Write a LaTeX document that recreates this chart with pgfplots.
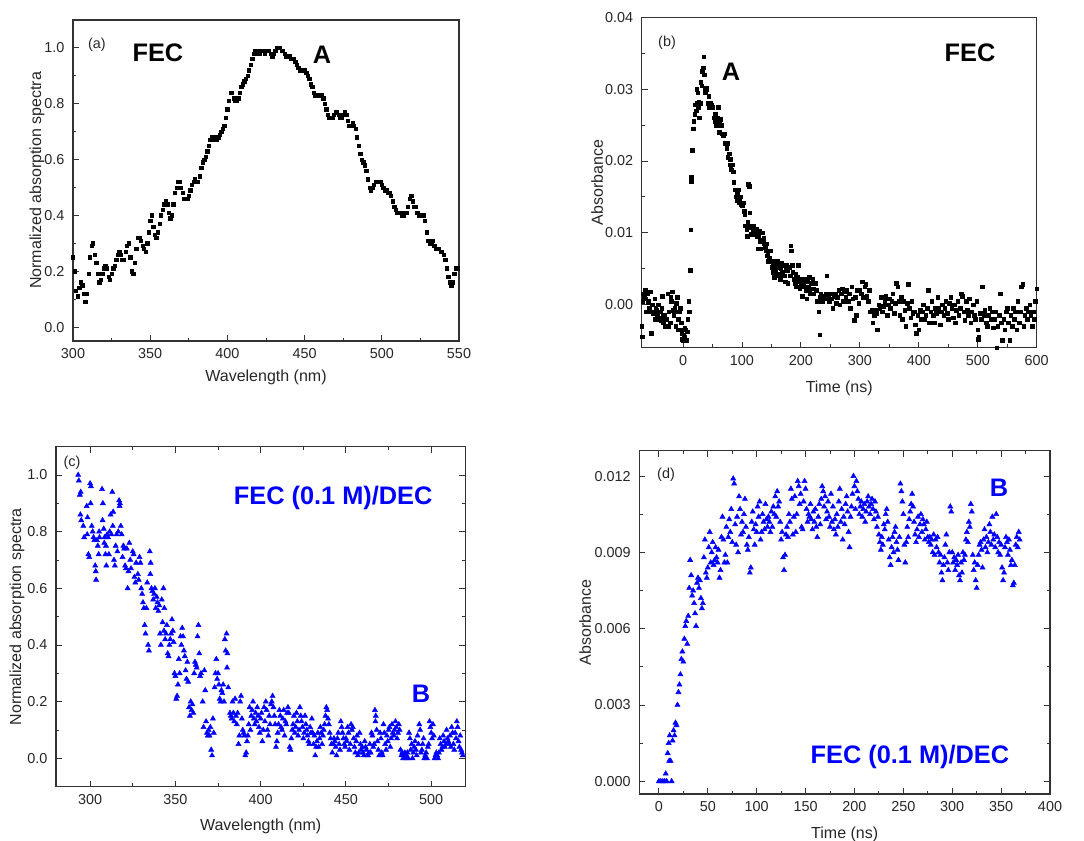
\documentclass[border=0pt]{standalone}
\usepackage{pgfplots}
\pgfplotsset{compat=1.18}
\usepackage{fontspec}
\setmainfont{Liberation Sans}
\pgfplotsset{
  myaxis/.style={
    scale only axis, anchor=south west,
    axis line style={black!80, line width=0.8pt},
    every tick/.style={black!80, line width=0.7pt},
    major tick length=4.5pt, minor tick length=2.5pt,
    tick label style={font=\fontsize{10.8}{12}\selectfont, text=black!85},
    xticklabel style={yshift=-2pt},
    yticklabel style={xshift=-3pt},
    label style={font=\fontsize{12}{14}\selectfont, text=black!85},
    /pgf/number format/assume math mode=true,
    scaled ticks=false,
  },
}
\tikzset{
  bigtxt/.style={font=\fontsize{19}{22}\selectfont\bfseries},
  smalltxt/.style={font=\fontsize{10.8}{12}\selectfont, text=black!85},
}
\begin{document}
\begin{tikzpicture}
\path[use as bounding box] (0,0) rectangle (813pt,630pt);
% ---------------- (a)
\begin{axis}[myaxis, at={(54.75pt,374.25pt)}, width=289.5pt, height=240.75pt,
  xmin=300, xmax=550, ymin=-0.05, ymax=1.1,
  xtick={300,350,...,550}, ytick={0,0.2,...,1.0},
  minor x tick num=1, minor y tick num=1, tick pos=left,
  yticklabel style={/pgf/number format/.cd, fixed, fixed zerofill, precision=1},
  xlabel={Wavelength (nm)}, ylabel={Normalized absorption spectra},
  xlabel style={at={(axis description cs:0.5,-0.112)}, anchor=center},
  ylabel style={at={(axis description cs:-0.093,0.5)}, anchor=center},
]
\addplot[only marks, mark=square*, mark size=1.25pt, black] table[row sep=\\] {
300 0.25\\ 301 0.20\\ 302 0.13\\ 303 0.11\\ 304 0.14\\ 305 0.16\\ 306 0.15\\ 307 0.12\\ 308 0.09\\ 309 0.12\\
310 0.19\\ 311 0.25\\ 312 0.29\\ 313 0.30\\ 314 0.26\\ 315 0.23\\ 316 0.19\\ 317 0.16\\ 318 0.17\\ 319 0.19\\
320 0.21\\ 321 0.22\\ 322 0.21\\ 323 0.18\\ 324 0.17\\ 325 0.19\\ 326 0.21\\ 327 0.22\\ 328 0.24\\ 329 0.26\\
330 0.27\\ 331 0.26\\ 332 0.24\\ 333 0.24\\ 334 0.27\\ 335 0.29\\ 336 0.30\\ 337 0.25\\ 338 0.20\\ 339 0.19\\
340 0.23\\ 341 0.28\\ 342 0.32\\ 343 0.32\\ 344 0.31\\ 345 0.29\\ 346 0.28\\ 347 0.27\\ 348 0.30\\ 349 0.34\\
350 0.38\\ 351 0.40\\ 352 0.36\\ 353 0.33\\ 354 0.32\\ 355 0.34\\ 356 0.37\\ 357 0.40\\ 358 0.42\\ 359 0.44\\
360 0.45\\ 361 0.44\\ 362 0.41\\ 363 0.39\\ 364 0.40\\ 365 0.44\\ 366 0.48\\ 367 0.50\\ 368 0.52\\ 369 0.52\\
370 0.50\\ 371 0.48\\ 372 0.46\\ 373 0.46\\ 374 0.46\\ 375 0.47\\ 376 0.49\\ 377 0.51\\ 378 0.52\\ 379 0.53\\
380 0.52\\ 381 0.52\\ 382 0.54\\ 383 0.57\\ 384 0.59\\ 385 0.60\\ 386 0.61\\ 387 0.63\\ 388 0.65\\ 389 0.67\\
390 0.68\\ 391 0.68\\ 392 0.67\\ 393 0.67\\ 394 0.68\\ 395 0.69\\ 396 0.70\\ 397 0.71\\ 398 0.72\\ 399 0.75\\
400 0.78\\ 401 0.81\\ 402 0.84\\ 403 0.84\\ 404 0.82\\ 405 0.81\\ 406 0.81\\ 407 0.82\\ 408 0.84\\ 409 0.86\\
410 0.87\\ 411 0.88\\ 412 0.89\\ 413 0.90\\ 414 0.92\\ 415 0.94\\ 416 0.96\\ 417 0.98\\ 418 0.99\\ 419 0.99\\
420 0.98\\ 421 0.98\\ 422 0.99\\ 423 0.99\\ 424 0.98\\ 425 0.99\\ 426 0.99\\ 427 0.99\\ 428 0.98\\ 429 0.97\\
430 0.98\\ 431 0.99\\ 432 1.00\\ 433 1.00\\ 434 1.00\\ 435 0.99\\ 436 0.99\\ 437 0.98\\ 438 0.97\\ 439 0.97\\
440 0.97\\ 441 0.96\\ 442 0.96\\ 443 0.96\\ 444 0.95\\ 445 0.94\\ 446 0.93\\ 447 0.92\\ 448 0.92\\ 449 0.92\\
450 0.92\\ 451 0.91\\ 452 0.90\\ 453 0.89\\ 454 0.87\\ 455 0.86\\ 456 0.84\\ 457 0.83\\ 458 0.83\\ 459 0.83\\
460 0.83\\ 461 0.83\\ 462 0.82\\ 463 0.80\\ 464 0.78\\ 465 0.76\\ 466 0.75\\ 467 0.75\\ 468 0.75\\ 469 0.76\\
470 0.77\\ 471 0.77\\ 472 0.76\\ 473 0.75\\ 474 0.75\\ 475 0.76\\ 476 0.77\\ 477 0.76\\ 478 0.74\\ 479 0.72\\
480 0.72\\ 481 0.73\\ 482 0.72\\ 483 0.71\\ 484 0.68\\ 485 0.65\\ 486 0.62\\ 487 0.60\\ 488 0.59\\ 489 0.58\\
490 0.56\\ 491 0.53\\ 492 0.50\\ 493 0.49\\ 494 0.50\\ 495 0.51\\ 496 0.52\\ 497 0.52\\ 498 0.52\\ 499 0.52\\
500 0.51\\ 501 0.50\\ 502 0.49\\ 503 0.49\\ 504 0.48\\ 505 0.48\\ 506 0.47\\ 507 0.45\\ 508 0.43\\ 509 0.42\\
510 0.41\\ 511 0.41\\ 512 0.41\\ 513 0.40\\ 514 0.40\\ 515 0.41\\ 516 0.41\\ 517 0.43\\ 518 0.46\\ 519 0.47\\
520 0.45\\ 521 0.43\\ 522 0.43\\ 523 0.41\\ 524 0.40\\ 525 0.40\\ 526 0.40\\ 527 0.40\\ 528 0.38\\ 529 0.34\\
530 0.31\\ 531 0.30\\ 532 0.30\\ 533 0.31\\ 534 0.29\\ 535 0.28\\ 536 0.28\\ 537 0.28\\ 538 0.27\\ 539 0.27\\
540 0.26\\ 541 0.24\\ 542 0.21\\ 543 0.18\\ 544 0.16\\ 545 0.15\\ 546 0.16\\ 547 0.19\\ 548 0.21\\ 549 0.21\\
};
\node[smalltxt] at (rel axis cs:0.062,0.922) {(a)};
\node[bigtxt] at (rel axis cs:0.220,0.897) {FEC};
\node[bigtxt] at (rel axis cs:0.645,0.891) {A};
\end{axis}
% ---------------- (b)
\begin{axis}[myaxis, at={(481.3pt,369.2pt)}, width=296.25pt, height=247.8pt,
  xmin=-70, xmax=600, ymin=-0.006, ymax=0.04,
  xtick={0,100,...,600}, ytick={0,0.01,...,0.04},
  minor x tick num=1, minor y tick num=1, tick pos=left,
  yticklabel style={/pgf/number format/.cd, fixed, fixed zerofill, precision=2},
  xlabel={Time (ns)}, ylabel={Absorbance},
  xlabel style={at={(axis description cs:0.5,-0.122)}, anchor=center},
  ylabel style={at={(axis description cs:-0.113,0.5)}, anchor=center},
]
\addplot[only marks, mark=square*, mark size=1.35pt, black] table[row sep=\\] {
-70 -0.0030\\ -69 -0.0045\\ -68 0.0005\\ -67 0.0015\\ -66 0.0010\\ -64 0.0020\\ -63 0.0008\\ -62 -0.0010\\ -60 0.0015\\ -59 0.0003\\
-58 0.0005\\ -57 -0.0005\\ -56 0.0018\\ -55 -0.0010\\ -54 -0.0040\\ -52 0.0000\\ -51 -0.0012\\ -50 -0.0010\\ -48 0.0008\\ -47 -0.0020\\
-46 -0.0005\\ -45 -0.0008\\ -44 -0.0015\\ -42 0.0000\\ -41 -0.0018\\ -40 -0.0020\\ -38 -0.0010\\ -37 -0.0022\\ -36 -0.0005\\ -35 0.0012\\
-34 -0.0025\\ -33 -0.0015\\ -32 -0.0015\\ -30 -0.0030\\ -29 -0.0020\\ -28 -0.0020\\ -26 0.0015\\ -25 -0.0030\\ -24 -0.0010\\ -22 -0.0025\\
-21 0.0010\\ -20 0.0005\\ -18 0.0018\\ -17 -0.0008\\ -16 -0.0015\\ -15 -0.0010\\ -14 -0.0005\\ -12 -0.0030\\ -11 0.0002\\ -10 0.0010\\
-9 -0.0035\\ -8 -0.0020\\ -6 -0.0010\\ -5 -0.0005\\ -4 -0.0035\\ -3 -0.0025\\ -2 -0.0040\\ -1 -0.0048\\ 0 -0.0050\\ 1 -0.0042\\
2 -0.0045\\ 3 -0.0032\\ 4 -0.0035\\ 6 -0.0050\\ 7 -0.0038\\ 8 -0.0020\\ 10 0.0005\\ 11 -0.0010\\
12 0.0048\\ 13 0.0104\\ 14 0.0172\\ 14.5 0.0178\\ 16 0.0215\\ 17 0.0245\\ 18 0.0255\\ 20 0.0265\\ 21 0.0278\\ 22 0.0270\\
23 0.0300\\ 24 0.0280\\ 25 0.0295\\ 26 0.0275\\ 27 0.0282\\ 28 0.0260\\ 29 0.0280\\ 30 0.0310\\ 32 0.0305\\ 33 0.0325\\
34 0.0330\\ 35 0.0345\\ 36 0.0320\\ 37 0.0300\\ 38 0.0295\\ 39 0.0302\\ 40 0.0300\\ 42 0.0280\\ 44 0.0290\\ 45 0.0275\\
46 0.0280\\ 48 0.0278\\ 50 0.0275\\ 52 0.0260\\ 54 0.0255\\ 55 0.0265\\ 56 0.0250\\ 58 0.0260\\ 60 0.0275\\ 61 0.0255\\
62 0.0240\\ 64 0.0258\\ 65 0.0250\\ 66 0.0238\\ 68 0.0235\\ 70 0.0238\\ 72 0.0225\\ 74 0.0218\\ 75 0.0225\\ 76 0.0205\\
78 0.0210\\ 79 0.0195\\ 80 0.0202\\ 81 0.0190\\ 82 0.0188\\ 84 0.0195\\ 85 0.0185\\ 86 0.0170\\ 88 0.0160\\ 90 0.0150\\
91 0.0145\\ 92 0.0155\\ 94 0.0160\\ 95 0.0142\\ 96 0.0145\\ 98 0.0150\\ 99 0.0140\\ 100 0.0138\\ 102 0.0142\\ 104 0.0130\\
105 0.0125\\ 106 0.0110\\ 108 0.0105\\ 109 0.0095\\ 110 0.0115\\ 111 0.0168\\ 112 0.0165\\ 113 0.0128\\ 114 0.0108\\ 115 0.0110\\
116 0.0098\\ 118 0.0105\\ 119 0.0100\\ 120 0.0110\\ 121 0.0102\\ 122 0.0098\\ 124 0.0105\\ 125 0.0095\\ 126 0.0100\\ 127 0.0078\\
128 0.0095\\ 130 0.0102\\ 131 0.0088\\ 132 0.0078\\ 134 0.0100\\ 136 0.0090\\ 137 0.0092\\ 138 0.0085\\ 140 0.0080\\ 141 0.0075\\
142 0.0085\\ 143 0.0068\\ 144 0.0072\\ 145 0.0060\\ 146 0.0065\\ 148 0.0075\\ 150 0.0060\\ 151 0.0052\\ 152 0.0045\\ 153 0.0058\\
154 0.0060\\ 155 0.0038\\ 156 0.0045\\ 158 0.0052\\ 160 0.0040\\ 161 0.0060\\ 162 0.0055\\ 164 0.0042\\ 165 0.0035\\ 166 0.0050\\
167 0.0058\\ 168 0.0045\\ 170 0.0055\\ 172 0.0040\\ 173 0.0032\\ 174 0.0050\\ 176 0.0055\\ 177 0.0048\\ 178 0.0030\\ 180 0.0052\\
182 0.0040\\ 183 0.0082\\ 184 0.0075\\ 185 0.0055\\ 186 0.0045\\ 188 0.0035\\ 190 0.0030\\ 191 0.0042\\ 192 0.0025\\ 194 0.0038\\
195 0.0032\\ 196 0.0055\\ 198 0.0022\\ 200 0.0035\\ 201 0.0028\\ 202 0.0012\\ 204 0.0030\\ 205 0.0025\\ 206 0.0035\\ 208 0.0020\\
210 0.0008\\ 211 0.0032\\ 212 0.0025\\ 214 0.0038\\ 215 0.0020\\ 216 0.0015\\ 218 0.0030\\ 220 0.0035\\ 221 0.0022\\ 222 0.0015\\
224 0.0030\\ 226 0.0020\\ 228 0.0005\\ 230 -0.0010\\ 232 -0.0042\\ 233 0.0010\\ 234 0.0015\\ 236 0.0005\\ 238 0.0012\\ 240 0.0008\\
242 0.0015\\ 244 0.0040\\ 246 0.0010\\ 248 0.0005\\ 250 0.0015\\ 252 0.0008\\ 254 -0.0005\\ 256 0.0012\\ 258 0.0015\\ 260 0.0002\\
262 0.0010\\ 264 0.0020\\ 266 0.0000\\ 268 0.0015\\ 270 0.0022\\ 272 0.0005\\ 274 0.0018\\ 276 0.0010\\ 278 0.0020\\ 280 0.0005\\
282 0.0015\\ 284 -0.0005\\ 286 0.0025\\ 288 0.0008\\ 290 -0.0022\\ 292 0.0010\\ 294 -0.0015\\ 296 0.0020\\ 298 0.0002\\ 300 0.0020\\
302 0.0015\\ 304 0.0032\\ 306 0.0010\\ 308 0.0025\\ 310 0.0028\\ 312 0.0012\\ 314 0.0005\\ 316 0.0020\\ 318 -0.0010\\ 320 -0.0008\\
322 -0.0025\\ 324 -0.0015\\ 326 -0.0008\\ 328 -0.0012\\ 330 -0.0035\\ 332 0.0000\\ 334 -0.0005\\ 336 0.0010\\ 338 -0.0010\\ 340 -0.0002\\
342 0.0005\\ 344 0.0012\\ 346 -0.0015\\ 348 0.0000\\ 350 0.0008\\ 352 -0.0005\\ 354 0.0005\\ 356 0.0015\\ 358 -0.0012\\ 360 0.0002\\
362 0.0030\\ 364 0.0025\\ 366 0.0005\\ 368 -0.0015\\ 370 0.0010\\ 372 -0.0020\\ 374 0.0005\\ 376 -0.0008\\ 378 -0.0030\\ 380 0.0002\\
382 0.0028\\ 384 -0.0005\\ 386 -0.0018\\ 388 0.0005\\ 390 -0.0012\\ 392 -0.0010\\ 394 -0.0028\\ 396 -0.0040\\ 398 -0.0015\\ 400 -0.0035\\
402 -0.0008\\ 404 -0.0020\\ 406 -0.0010\\ 408 0.0000\\ 410 -0.0020\\ 412 -0.0015\\ 414 -0.0005\\ 416 0.0020\\ 418 -0.0025\\ 420 -0.0010\\
422 0.0005\\ 424 -0.0015\\ 426 -0.0025\\ 428 -0.0005\\ 430 -0.0012\\ 432 0.0010\\ 434 -0.0005\\ 436 -0.0028\\ 438 -0.0010\\ 440 0.0000\\
442 -0.0015\\ 444 -0.0005\\ 446 0.0005\\ 448 -0.0012\\ 450 -0.0020\\ 452 0.0002\\ 454 0.0010\\ 456 -0.0005\\ 458 -0.0018\\ 460 0.0000\\
462 -0.0025\\ 464 -0.0008\\ 466 0.0005\\ 468 -0.0015\\ 470 -0.0005\\ 472 0.0015\\ 474 0.0012\\ 476 -0.0010\\ 478 -0.0022\\ 480 0.0005\\
482 -0.0008\\ 484 -0.0015\\ 486 0.0008\\ 488 -0.0025\\ 490 -0.0010\\ 492 0.0000\\ 494 -0.0015\\ 496 -0.0020\\ 498 0.0005\\ 500 -0.0035\\
501 -0.0048\\ 502 -0.0045\\ 504 -0.0012\\ 506 -0.0020\\ 508 0.0025\\ 510 -0.0015\\ 512 -0.0008\\ 514 -0.0025\\ 516 -0.0030\\ 518 -0.0015\\
520 -0.0005\\ 522 -0.0020\\ 524 -0.0010\\ 526 -0.0032\\ 528 -0.0020\\ 530 -0.0010\\ 532 -0.0060\\ 534 -0.0030\\ 536 -0.0015\\ 538 0.0015\\
540 -0.0025\\ 542 -0.0050\\ 544 -0.0020\\ 546 -0.0035\\ 548 -0.0010\\ 550 -0.0005\\ 552 -0.0025\\ 554 -0.0050\\ 556 -0.0015\\ 558 -0.0030\\
560 -0.0005\\ 562 -0.0020\\ 564 -0.0010\\ 566 -0.0035\\ 568 0.0005\\ 570 -0.0025\\ 572 -0.0010\\ 574 0.0025\\ 576 0.0028\\ 578 -0.0030\\
580 -0.0015\\ 582 -0.0005\\ 584 -0.0020\\ 586 -0.0010\\ 588 0.0000\\ 590 -0.0015\\ 592 -0.0030\\ 594 -0.0010\\ 596 -0.0020\\ 598 0.0005\\
600 0.0022\\
};
\node[smalltxt] at (rel axis cs:0.064,0.922) {(b)};
\node[bigtxt] at (rel axis cs:0.831,0.892) {FEC};
\node[bigtxt] at (rel axis cs:0.226,0.834) {A};
\end{axis}
% ---------------- (c)
\begin{axis}[myaxis, at={(42pt,40pt)}, width=307pt, height=255pt,
  xmin=280, xmax=520, ymin=-0.1, ymax=1.1,
  xtick={300,350,...,500}, ytick={0,0.2,...,1.0},
  minor x tick num=1, minor y tick num=1,
  yticklabel style={/pgf/number format/.cd, fixed, fixed zerofill, precision=1},
  xlabel={Wavelength (nm)}, ylabel={Normalized absorption spectra},
  xlabel style={at={(axis description cs:0.5,-0.116)}, anchor=center},
  ylabel style={at={(axis description cs:-0.095,0.5)}, anchor=center},
]
\addplot[only marks, mark=triangle*, mark size=2.2pt, blue, mark options={draw=blue, fill=blue}] table[row sep=\\] {
293 1.00\\ 293.4 0.98\\ 294 0.93\\ 294.5 0.94\\ 294.3 0.86\\ 294.8 0.84\\ 296 0.82\\ 296.5 0.78\\ 298 0.89\\ 298.5 0.85\\ 298.3 0.79\\
299 0.72\\ 299.5 0.71\\ 300 0.97\\ 300.5 0.96\\ 300.3 0.90\\ 301 0.82\\ 301.5 0.80\\ 302 0.78\\ 302.5 0.77\\ 303 0.68\\ 303.5 0.63\\ 303.3 0.66\\
304 0.77\\ 304.5 0.75\\ 305 0.72\\ 305.5 0.78\\ 305.3 0.80\\ 307 0.95\\ 307.5 0.90\\ 307.3 0.84\\ 308 0.81\\ 308.5 0.78\\ 308.3 0.76\\
309 0.72\\ 309.5 0.68\\ 309.3 0.75\\ 310 0.79\\ 310.5 0.78\\ 311 0.72\\ 311.5 0.80\\ 312 0.86\\ 312.5 0.79\\ 313 0.94\\ 313.5 0.87\\ 313.3 0.82\\
314 0.70\\ 314.5 0.68\\ 315 0.75\\ 315.5 0.79\\ 316 0.73\\ 316.5 0.80\\ 317 0.91\\ 317.5 0.90\\ 317.3 0.89\\ 318 0.82\\ 318.5 0.79\\
319 0.71\\ 319.5 0.75\\ 320 0.74\\ 320.5 0.68\\ 321 0.67\\ 321.5 0.74\\ 322 0.60\\ 322.5 0.66\\ 323 0.76\\ 323.5 0.70\\ 324 0.67\\
325 0.73\\ 325.5 0.72\\ 326 0.64\\ 326.5 0.62\\ 327 0.69\\ 328 0.65\\ 328.5 0.63\\ 329 0.71\\ 329.5 0.69\\ 330 0.60\\ 330.5 0.58\\
331 0.55\\ 331.5 0.53\\ 332 0.47\\ 332.5 0.44\\ 333 0.53\\ 333.5 0.62\\ 334 0.40\\ 334.5 0.38\\ 335 0.73\\ 335.5 0.69\\ 335.3 0.65\\
336 0.60\\ 336.5 0.59\\ 337 0.56\\ 337.5 0.58\\ 338 0.60\\ 338.5 0.53\\ 339 0.57\\ 339.5 0.55\\ 340 0.52\\ 340.5 0.54\\
341 0.44\\ 341.5 0.40\\ 342 0.56\\ 342.5 0.48\\ 343 0.60\\ 343.5 0.53\\ 343.3 0.45\\ 344 0.42\\ 344.5 0.44\\ 345 0.47\\ 345.5 0.37\\
346 0.36\\ 346.5 0.40\\ 347 0.42\\ 347.5 0.44\\ 348 0.49\\ 348.5 0.45\\ 349 0.41\\ 349.5 0.30\\ 350 0.29\\ 350.5 0.21\\
351 0.22\\ 351.5 0.26\\ 352 0.35\\ 352.5 0.30\\ 353 0.43\\ 353.5 0.40\\ 354 0.46\\ 354.5 0.43\\ 355 0.38\\ 355.5 0.36\\
356 0.31\\ 356.5 0.28\\ 357 0.34\\ 357.5 0.27\\ 358 0.18\\ 358.5 0.15\\ 359 0.20\\ 359.5 0.17\\ 360 0.19\\ 360.5 0.16\\
361 0.30\\ 361.5 0.34\\ 362 0.33\\ 362.5 0.32\\ 363 0.43\\ 363.5 0.47\\ 364 0.37\\ 364.5 0.29\\ 365 0.30\\ 366 0.20\\ 366.5 0.11\\
367 0.31\\ 367.5 0.24\\ 368 0.13\\ 368.5 0.09\\ 369 0.08\\ 369.5 0.10\\ 370 0.08\\ 370.5 0.11\\ 371 0.03\\ 371.5 0.01\\
372 0.14\\ 372.5 0.09\\ 373 0.25\\ 373.5 0.30\\ 374 0.35\\ 374.5 0.28\\ 375 0.30\\ 375.5 0.26\\ 376 0.21\\ 376.5 0.20\\
377 0.24\\ 377.5 0.23\\ 378 0.26\\ 378.5 0.20\\ 379 0.42\\ 379.5 0.38\\ 380 0.44\\ 380.5 0.37\\ 380.3 0.32\\ 381 0.25\\
382 0.16\\ 382.5 0.15\\ 383 0.14\\ 383.5 0.20\\ 384 0.16\\ 384.5 0.13\\ 385 0.21\\ 385.5 0.15\\ 386 0.12\\ 386.5 0.16\\
387 0.05\\ 387.5 0.08\\ 388 0.20\\ 388.5 0.22\\ 389 0.14\\ 389.5 0.10\\ 390 0.09\\ 390.5 0.08\\ 391 0.01\\ 391.5 0.02\\
392 0.06\\ 392.5 0.08\\ 393 0.12\\ 393.5 0.18\\ 394 0.10\\ 394.5 0.15\\ 395 0.17\\ 395.5 0.20\\ 396 0.14\\ 396.5 0.12\\
397 0.16\\ 397.5 0.13\\ 398 0.18\\ 398.5 0.15\\ 399 0.11\\ 399.5 0.09\\ 400 0.14\\ 400.5 0.16\\ 401 0.06\\ 401.5 0.10\\
402 0.18\\ 402.5 0.13\\ 403 0.20\\ 403.5 0.17\\ 404 0.10\\ 404.5 0.08\\ 405 0.15\\ 405.5 0.12\\ 406 0.19\\ 406.5 0.20\\
407 0.22\\ 407.5 0.18\\ 408 0.15\\ 408.5 0.12\\ 409 0.04\\ 409.5 0.06\\ 410 0.09\\ 410.5 0.12\\ 411 0.17\\ 411.5 0.15\\
412 0.11\\ 412.5 0.10\\ 413 0.14\\ 413.5 0.17\\ 414 0.08\\ 414.5 0.13\\ 415 0.12\\ 415.5 0.16\\ 416 0.18\\ 416.5 0.16\\
417 0.04\\ 417.5 0.03\\ 418 0.07\\ 418.5 0.10\\ 419 0.12\\ 419.5 0.15\\ 420 0.09\\ 420.5 0.11\\ 421 0.16\\ 421.5 0.13\\
422 0.08\\ 422.5 0.10\\ 423 0.18\\ 423.5 0.15\\ 424 0.13\\ 424.5 0.11\\ 425 0.07\\ 425.5 0.09\\ 426 0.15\\ 426.5 0.12\\
427 0.10\\ 427.5 0.08\\ 428 0.06\\ 428.5 0.05\\ 429 0.11\\ 429.5 0.09\\ 430 0.14\\ 430.5 0.09\\ 431 0.05\\ 431.5 0.08\\
432 0.01\\ 432.5 0.04\\ 433 0.06\\ 433.5 0.09\\ 434 0.04\\ 434.5 0.07\\ 435 0.11\\ 435.5 0.09\\ 436 0.05\\ 436.5 0.08\\
437 0.10\\ 437.5 0.12\\ 438 0.15\\ 438.5 0.18\\ 439 0.17\\ 439.5 0.14\\ 440 0.12\\ 440.5 0.09\\ 441 0.07\\ 441.5 0.05\\
442 0.02\\ 442.5 0.05\\ 443 0.07\\ 443.5 0.06\\ 444 0.04\\ 444.5 0.01\\ 445 0.07\\ 445.5 0.09\\ 446 0.05\\ 446.5 0.03\\
447 0.13\\ 447.5 0.11\\ 448 0.09\\ 448.5 0.07\\ 449 0.05\\ 449.5 0.04\\ 450 0.07\\ 450.5 0.06\\ 451 0.11\\ 451.5 0.09\\
452 0.03\\ 452.5 0.05\\ 453 0.12\\ 453.5 0.10\\ 454 0.11\\ 454.5 0.07\\ 455 0.04\\ 455.5 0.02\\ 456 0.06\\ 456.5 0.08\\
457 0.01\\ 457.5 0.02\\ 458 0.09\\ 458.5 0.05\\ 459 0.03\\ 459.5 0.04\\ 460 0.02\\ 460.5 0.01\\ 461 0.06\\ 461.5 0.04\\
462 0.03\\ 462.5 0.01\\ 463 0.01\\ 463.5 0.02\\ 464 0.05\\ 464.5 0.02\\ 465 0.09\\ 465.5 0.08\\ 466 0.04\\ 466.5 0.05\\
467 0.17\\ 467.5 0.15\\ 467.3 0.13\\ 468 0.10\\ 468.5 0.06\\ 469 0.03\\ 469.5 0.01\\ 470 0.09\\ 470.5 0.07\\ 471 0.02\\ 471.5 0.01\\
472 0.12\\ 472.5 0.09\\ 473 0.05\\ 473.5 0.03\\ 474 0.08\\ 474.5 0.06\\ 475 0.10\\ 475.5 0.11\\ 476 0.04\\ 476.5 0.07\\
477 0.12\\ 477.5 0.09\\ 478 0.08\\ 478.5 0.10\\ 479 0.13\\ 479.5 0.11\\ 480 0.07\\ 480.5 0.09\\ 481 0.12\\ 481.5 0.10\\
482 0.03\\ 482.5 0.01\\ 483 0.02\\ 483.5 0.00\\ 484 0.01\\ 484.5 0.02\\ 485 0.00\\ 485.5 0.01\\ 486 0.02\\ 486.5 0.00\\
487 0.09\\ 487.5 0.07\\ 488 0.03\\ 488.5 0.05\\ 489 0.00\\ 489.5 0.02\\ 490 0.04\\ 490.5 0.06\\ 491 0.03\\ 491.5 0.01\\
492 0.08\\ 492.5 0.05\\ 493 0.12\\ 493.5 0.10\\ 494 0.02\\ 494.5 0.03\\ 495 0.05\\ 495.5 0.07\\ 496 0.00\\ 496.5 0.01\\
497 0.02\\ 497.5 0.00\\ 498 0.04\\ 498.5 0.05\\ 499 0.13\\ 499.5 0.11\\ 500 0.09\\ 500.5 0.07\\ 501 0.12\\ 501.5 0.08\\
502 0.00\\ 502.5 0.01\\ 503 0.02\\ 503.5 0.01\\ 504 0.00\\ 504.5 0.02\\ 505 0.07\\ 505.5 0.05\\ 506 0.03\\ 506.5 0.04\\
507 0.08\\ 507.5 0.06\\ 508 0.04\\ 508.5 0.05\\ 509 0.10\\ 509.5 0.07\\ 510 0.06\\ 510.5 0.05\\ 511 0.08\\ 511.5 0.04\\
512 0.11\\ 512.5 0.09\\ 513 0.05\\ 513.5 0.03\\ 514 0.09\\ 514.5 0.07\\ 515 0.13\\ 515.5 0.11\\ 516 0.06\\ 516.5 0.04\\
517 0.08\\ 517.5 0.03\\ 518 0.02\\ 518.5 0.01\\
};
\node[smalltxt] at (rel axis cs:0.039,0.952) {(c)};
\node[bigtxt, blue] at (rel axis cs:0.677,0.849) {FEC (0.1 M)/DEC};
\node[bigtxt, blue] at (rel axis cs:0.892,0.273) {B};
\end{axis}
% ---------------- (d)
\begin{axis}[myaxis, at={(479.5pt,34.5pt)}, width=308pt, height=257.5pt,
  xmin=-20, xmax=400, ymin=-0.0005, ymax=0.013,
  xtick={0,50,...,400}, ytick={0,0.003,0.006,0.009,0.012},
  minor x tick num=1, minor y tick num=1,
  yticklabel style={/pgf/number format/.cd, fixed, fixed zerofill, precision=3},
  xlabel={Time (ns)}, ylabel={Absorbance},
  xlabel style={at={(axis description cs:0.5,-0.117)}, anchor=center},
  ylabel style={at={(axis description cs:-0.132,0.5)}, anchor=center},
]
\addplot[only marks, mark=triangle*, mark size=2.2pt, blue, mark options={draw=blue, fill=blue}] table[row sep=\\] {
0 0.0000\\ 2 0.0000\\ 4 0.0000\\ 6 0.0000\\ 7 0.0003\\ 8 0.0000\\ 9 0.0011\\ 10 0.0015\\ 10.5 0.0008\\ 11 0.0018\\
12 0.0008\\ 13 0.0000\\ 14 0.0016\\ 15 0.0020\\ 16 0.0018\\ 17 0.0023\\ 18 0.0022\\ 19 0.0030\\ 20 0.0035\\ 21 0.0038\\
22 0.0042\\ 23 0.0048\\ 24 0.0051\\ 25 0.0047\\ 26 0.0056\\ 27 0.0061\\ 28 0.0063\\ 29 0.0054\\ 30 0.0065\\ 31 0.0076\\
32 0.0087\\ 33 0.0081\\ 34 0.0073\\ 35 0.0075\\ 36 0.0070\\ 37 0.0066\\ 38 0.0061\\ 39 0.0078\\ 40 0.0080\\ 41 0.0076\\
42 0.0079\\ 43 0.0072\\ 44 0.0068\\ 45 0.0070\\ 46 0.0088\\ 47 0.0095\\ 48 0.0082\\ 49 0.0080\\ 50 0.0084\\ 51 0.0092\\
52 0.0098\\ 53 0.0086\\ 54 0.0090\\ 55 0.0094\\ 56 0.0085\\ 57 0.0087\\ 58 0.0092\\ 59 0.0088\\ 60 0.0086\\ 61 0.0091\\
62 0.0080\\ 63 0.0083\\ 64 0.0096\\ 65 0.0104\\ 66 0.0095\\ 67 0.0086\\ 68 0.0089\\ 69 0.0100\\ 70 0.0086\\ 71 0.0096\\
72 0.0103\\ 73 0.0098\\ 74 0.0107\\ 75 0.0094\\ 76 0.0119\\ 77 0.0117\\ 78 0.0101\\ 79 0.0093\\ 80 0.0104\\ 81 0.0090\\
82 0.0112\\ 83 0.0107\\ 84 0.0097\\ 85 0.0102\\ 86 0.0098\\ 87 0.0105\\ 88 0.0111\\ 89 0.0100\\ 90 0.0093\\ 91 0.0091\\
92 0.0096\\ 93 0.0082\\ 94 0.0084\\ 95 0.0102\\ 96 0.0106\\ 97 0.0099\\ 98 0.0093\\ 99 0.0101\\ 100 0.0098\\ 101 0.0108\\
102 0.0104\\ 103 0.0110\\ 104 0.0095\\ 105 0.0098\\ 106 0.0105\\ 107 0.0102\\ 108 0.0099\\ 109 0.0109\\ 110 0.0103\\ 111 0.0100\\
112 0.0104\\ 113 0.0102\\ 114 0.0098\\ 115 0.0106\\ 116 0.0100\\ 117 0.0108\\ 118 0.0105\\ 119 0.0112\\ 120 0.0104\\ 121 0.0114\\
122 0.0108\\ 123 0.0110\\ 124 0.0102\\ 125 0.0095\\ 126 0.0098\\ 127 0.0088\\ 128 0.0083\\ 129 0.0089\\ 130 0.0097\\ 131 0.0100\\
132 0.0096\\ 133 0.0105\\ 134 0.0102\\ 135 0.0115\\ 136 0.0111\\ 137 0.0097\\ 138 0.0104\\ 139 0.0112\\ 140 0.0098\\ 141 0.0105\\
142 0.0118\\ 143 0.0116\\ 144 0.0109\\ 145 0.0113\\ 146 0.0100\\ 147 0.0099\\ 148 0.0110\\ 149 0.0118\\ 150 0.0115\\ 151 0.0107\\
152 0.0102\\ 153 0.0105\\ 154 0.0104\\ 155 0.0109\\ 156 0.0103\\ 157 0.0099\\ 158 0.0106\\ 159 0.0102\\ 160 0.0107\\ 161 0.0100\\
162 0.0096\\ 163 0.0104\\ 164 0.0109\\ 165 0.0101\\ 166 0.0111\\ 167 0.0116\\ 168 0.0114\\ 169 0.0108\\ 170 0.0112\\ 171 0.0103\\
172 0.0106\\ 173 0.0110\\ 174 0.0104\\ 175 0.0100\\ 176 0.0113\\ 177 0.0102\\ 178 0.0108\\ 179 0.0099\\ 180 0.0103\\ 181 0.0097\\
182 0.0105\\ 183 0.0100\\ 184 0.0110\\ 185 0.0115\\ 186 0.0102\\ 187 0.0107\\ 188 0.0095\\ 189 0.0104\\ 190 0.0101\\ 191 0.0109\\
192 0.0112\\ 193 0.0106\\ 194 0.0098\\ 195 0.0092\\ 196 0.0104\\ 197 0.0108\\ 198 0.0113\\ 199 0.0120\\ 200 0.0116\\ 201 0.0107\\
202 0.0118\\ 203 0.0114\\ 204 0.0111\\ 205 0.0105\\ 206 0.0108\\ 207 0.0110\\ 208 0.0104\\ 209 0.0107\\ 210 0.0109\\ 211 0.0102\\
212 0.0106\\ 213 0.0110\\ 214 0.0112\\ 215 0.0108\\ 216 0.0105\\ 217 0.0109\\ 218 0.0111\\ 219 0.0107\\ 220 0.0103\\ 221 0.0110\\
222 0.0106\\ 223 0.0100\\ 224 0.0104\\ 225 0.0097\\ 226 0.0094\\ 227 0.0091\\ 228 0.0096\\ 229 0.0093\\ 230 0.0101\\ 231 0.0099\\
232 0.0105\\ 233 0.0107\\ 234 0.0102\\ 235 0.0095\\ 236 0.0088\\ 237 0.0085\\ 238 0.0092\\ 239 0.0096\\ 240 0.0090\\ 241 0.0098\\
242 0.0100\\ 243 0.0094\\ 244 0.0091\\ 245 0.0087\\ 246 0.0096\\ 247 0.0117\\ 248 0.0114\\ 249 0.0110\\ 250 0.0105\\ 251 0.0093\\
252 0.0086\\ 253 0.0094\\ 254 0.0100\\ 255 0.0096\\ 256 0.0103\\ 257 0.0106\\ 258 0.0109\\ 259 0.0113\\ 260 0.0108\\ 261 0.0102\\
262 0.0097\\ 263 0.0094\\ 264 0.0099\\ 265 0.0104\\ 266 0.0096\\ 267 0.0101\\ 268 0.0105\\ 269 0.0098\\ 270 0.0103\\ 271 0.0101\\
272 0.0095\\ 273 0.0099\\ 274 0.0102\\ 275 0.0096\\ 276 0.0094\\ 277 0.0096\\ 278 0.0093\\ 279 0.0095\\ 280 0.0090\\ 281 0.0097\\
282 0.0089\\ 283 0.0095\\ 284 0.0092\\ 285 0.0096\\ 286 0.0090\\ 287 0.0086\\ 288 0.0089\\ 289 0.0082\\ 290 0.0079\\ 291 0.0085\\
292 0.0088\\ 293 0.0093\\ 294 0.0097\\ 295 0.0086\\ 296 0.0083\\ 297 0.0090\\ 298 0.0108\\ 299 0.0106\\ 300 0.0090\\ 301 0.0086\\
302 0.0088\\ 303 0.0083\\ 304 0.0087\\ 305 0.0085\\ 306 0.0089\\ 307 0.0081\\ 308 0.0079\\ 309 0.0086\\ 310 0.0082\\ 311 0.0090\\
312 0.0087\\ 313 0.0089\\ 314 0.0095\\ 315 0.0098\\ 316 0.0094\\ 317 0.0102\\ 318 0.0100\\ 319 0.0109\\ 320 0.0106\\ 321 0.0089\\
322 0.0083\\ 323 0.0086\\ 324 0.0079\\ 325 0.0076\\ 326 0.0085\\ 327 0.0089\\ 328 0.0093\\ 329 0.0094\\ 330 0.0091\\ 331 0.0084\\
332 0.0095\\ 333 0.0099\\ 334 0.0092\\ 335 0.0096\\ 336 0.0090\\ 337 0.0094\\ 338 0.0101\\ 339 0.0098\\ 340 0.0093\\ 341 0.0104\\
342 0.0095\\ 343 0.0097\\ 344 0.0092\\ 345 0.0105\\ 346 0.0096\\ 347 0.0090\\ 348 0.0094\\ 349 0.0089\\ 350 0.0093\\ 351 0.0084\\
352 0.0079\\ 353 0.0082\\ 354 0.0092\\ 355 0.0096\\ 356 0.0094\\ 357 0.0089\\ 358 0.0095\\ 359 0.0091\\ 360 0.0085\\ 361 0.0087\\
362 0.0077\\ 363 0.0078\\ 364 0.0085\\ 365 0.0093\\ 366 0.0096\\ 367 0.0092\\ 368 0.0098\\ 369 0.0095\\
};
\node[smalltxt] at (rel axis cs:0.065,0.929) {(d)};
\node[bigtxt, blue] at (rel axis cs:0.876,0.891) {B};
\node[bigtxt, blue] at (rel axis cs:0.659,0.108) {FEC (0.1 M)/DEC};
\end{axis}
\end{tikzpicture}
\end{document}
